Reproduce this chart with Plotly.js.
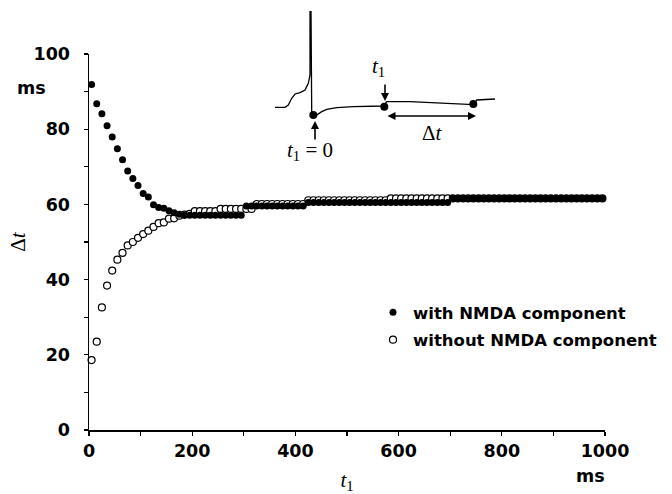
<!DOCTYPE html>
<html><head><meta charset="utf-8">
<script src="https://cdn.plot.ly/plotly-3.0.1.min.js"></script>
<style>html,body{margin:0;padding:0;background:#fff}#chart{width:672px;height:494px}</style>
</head><body><div id="chart"></div>
<script>
// ---- data: t1 (ms) and interval Δt (ms) ----
const t1 = [5,15,25,35,45,55,65,75,85,95,105,115,125,135,145,155,165,175,185,195,
  205,215,225,235,245,255,265,275,285,295,305,315,325,335,345,355,365,375,385,395,
  405,415,425,435,445,455,465,475,485,495,505,515,525,535,545,555,565,575,585,595,
  605,615,625,635,645,655,665,675,685,695,705,715,725,735,745,755,765,775,785,795,
  805,815,825,835,845,855,865,875,885,895,905,915,925,935,945,955,965,975,985,995];

const withNMDA = [91.9,86.8,84.1,80.9,77.9,74.8,71.9,68.9,66.9,65.0,62.9,62.0,59.9,59.2,59.0,58.3,57.8,57.4,57.1,57.1,
  57.1,57.1,57.1,57.1,57.1,57.1,57.1,57.1,57.1,57.1,59.6,59.6,59.6,59.6,59.6,59.6,59.6,59.6,59.6,59.6,
  59.6,59.6,60.5,60.5,60.5,60.5,60.5,60.5,60.5,60.5,60.5,60.5,60.5,60.5,60.5,60.5,60.5,60.5,60.5,60.5,
  60.5,60.5,60.5,60.5,60.5,60.5,60.5,60.5,60.5,60.5,61.6,61.6,61.6,61.6,61.6,61.6,61.6,61.6,61.6,61.6,
  61.6,61.6,61.6,61.6,61.6,61.6,61.6,61.6,61.6,61.6,61.6,61.6,61.6,61.6,61.6,61.6,61.6,61.6,61.6,61.6];

const withoutNMDA = [18.6,23.5,32.6,38.4,42.4,45.3,47.1,49.1,50.0,51.1,52.1,53.0,54.0,55.0,55.2,56.2,56.3,57.0,57.3,57.5,
  58.2,58.2,58.2,58.2,58.2,58.8,58.8,58.8,58.8,58.8,58.8,58.8,60.1,60.1,60.1,60.1,60.1,60.1,60.1,60.1,
  60.1,60.1,61.1,61.1,61.1,61.1,61.1,61.1,61.1,61.1,61.1,61.1,61.1,61.1,61.1,61.1,61.1,61.1,61.6,61.6,
  61.6,61.6,61.6,61.6,61.6,61.6,61.6,61.6,61.6,61.6,61.6,61.6,61.6,61.6,61.6,61.6,61.6,61.6,61.6,61.6,
  61.6,61.6,61.6,61.6,61.6,61.6,61.6,61.6,61.6,61.6,61.6,61.6,61.6,61.6,61.6,61.6,61.6,61.6,61.6,61.6];

const seriesNames = ['with NMDA component', 'without NMDA component'];

const xTickVals = [0,200,400,600,800,1000];
const xTickText = ['0','200','400','600','800','1000'];
const xMinorTickVals = [100,300,500,700,900];
const yTickVals = [0,20,40,60,80,100];
const yTickText = ['0','20','40','60','80','100'];
const yMinorTickVals = [10,30,50,70,90];

// ---- inset schematic (voltage trace), in inset units ----
const insetX = [275,285,288.3,291.7,295,300,305,308.3,310,310,311,311.7,313.3,316.7,321.7,326.7,336.7,353.3,383.3,386.7,410,446.7,473.3,476.7,495];
const insetY = [107.3,107.3,105,98.3,94,92.7,90,83.3,75,11.7,11.7,113.3,115,115,111.7,109.3,107.7,106.7,106,101.7,101.7,103.3,104.7,100,99];
const insetDotX = [313.3,384.3,473.3];
const insetDotY = [115,106.7,104];

const boldFont = {family:'DejaVu Sans', size:17.5, weight:'bold', color:'#000'};
const serifFont = {family:'Liberation Serif', size:21, color:'#000'};

const data = [
  {x:t1, y:withoutNMDA, type:'scatter', mode:'markers', name:seriesNames[1],
   legendgroup:'b', legendrank:2, cliponaxis:false,
   marker:{symbol:'circle', size:7, color:'#fff', line:{width:1.2, color:'#000'}}},
  {x:t1, y:withNMDA, type:'scatter', mode:'markers', name:seriesNames[0],
   legendgroup:'a', legendrank:1, cliponaxis:false,
   marker:{symbol:'circle', size:7, color:'#000', line:{width:0}}},
  {x:insetX, y:insetY, xaxis:'x2', yaxis:'y2', type:'scatter', mode:'lines',
   showlegend:false, cliponaxis:false, line:{color:'#000', width:1.3}},
  {x:insetDotX, y:insetDotY, xaxis:'x2', yaxis:'y2', type:'scatter', mode:'markers',
   showlegend:false, cliponaxis:false, marker:{size:8, color:'#000'}}
];

const arrowBase = {xref:'x2', yref:'y2', axref:'x2', ayref:'y2', text:'', showarrow:true,
  arrowhead:2, arrowsize:1, arrowwidth:1.6, arrowcolor:'#000', standoff:0, startstandoff:0};

const layout = {
  width:672, height:494,
  margin:{l:89, r:67, t:0, b:64, pad:0},
  paper_bgcolor:'#fff', plot_bgcolor:'#fff',
  showlegend:true,
  legend:{x:0.5504, y:0.314, xanchor:'left', yanchor:'top', traceorder:'grouped', tracegroupgap:3,
    bgcolor:'rgba(0,0,0,0)', font:{family:'DejaVu Sans', size:16.5, weight:'bold', color:'#000'}},
  xaxis:{domain:[0,1], range:[0,1000], anchor:'y', tickmode:'array', tickvals:xTickVals, ticktext:xTickText,
    ticks:'outside', ticklen:4, tickwidth:1.3, tickcolor:'#000',
    minor:{tickmode:'array', tickvals:xMinorTickVals, ticks:'outside', ticklen:4, tickwidth:1.3, tickcolor:'#000', showgrid:false},
    showline:true, linecolor:'#000', linewidth:1.5, showgrid:false, zeroline:false,
    tickfont:boldFont, title:{text:'<i>t</i><sub>1</sub>', font:serifFont, standoff:14}},
  yaxis:{domain:[0,376/430], range:[0,100], anchor:'x', tickmode:'array', tickvals:yTickVals, ticktext:yTickText,
    ticks:'outside', ticklen:4, tickwidth:1.3, tickcolor:'#000', ticklabelstandoff:10,
    minor:{tickmode:'array', tickvals:yMinorTickVals, ticks:'outside', ticklen:4, tickwidth:1.3, tickcolor:'#000', showgrid:false},
    showline:true, linecolor:'#000', linewidth:1.5, showgrid:false, zeroline:false,
    tickfont:boldFont, title:{text:'Δ<i>t</i>', font:serifFont, standoff:2}},
  xaxis2:{domain:[0.3508,0.7965], range:[270,500], anchor:'y2', visible:false, fixedrange:true},
  yaxis2:{domain:[0.6047,1], range:[170,0], anchor:'x2', visible:false, fixedrange:true},
  annotations:[
    {xref:'paper', yref:'paper', x:-0.1124, y:0.7953, text:'ms', showarrow:false, font:boldFont, xanchor:'center', yanchor:'middle'},
    {xref:'paper', yref:'paper', x:0.971, y:-0.107, text:'ms', showarrow:false, font:boldFont, xanchor:'center', yanchor:'middle'},
    Object.assign({}, arrowBase, {x:315, y:121, ax:315, ay:141}),
    Object.assign({}, arrowBase, {x:385, y:101, ax:385, ay:83}),
    Object.assign({}, arrowBase, {x:476, y:116, ax:386, ay:116, arrowside:'end+start'}),
    {xref:'x2', yref:'y2', x:310, y:151, text:'<i>t</i><sub>1</sub> = 0', showarrow:false, font:{family:'Liberation Serif', size:21, color:'#000'}, xanchor:'center', yanchor:'middle'},
    {xref:'x2', yref:'y2', x:378, y:67, text:'<i>t</i><sub>1</sub>', showarrow:false, font:{family:'Liberation Serif', size:21, color:'#000'}, xanchor:'center', yanchor:'middle'},
    {xref:'x2', yref:'y2', x:432, y:133, text:'Δ<i>t</i>', showarrow:false, font:{family:'Liberation Serif', size:21, color:'#000'}, xanchor:'center', yanchor:'middle'}
  ]
};

Plotly.newPlot('chart', data, layout, {displayModeBar:false, staticPlot:true});
</script></body></html>
